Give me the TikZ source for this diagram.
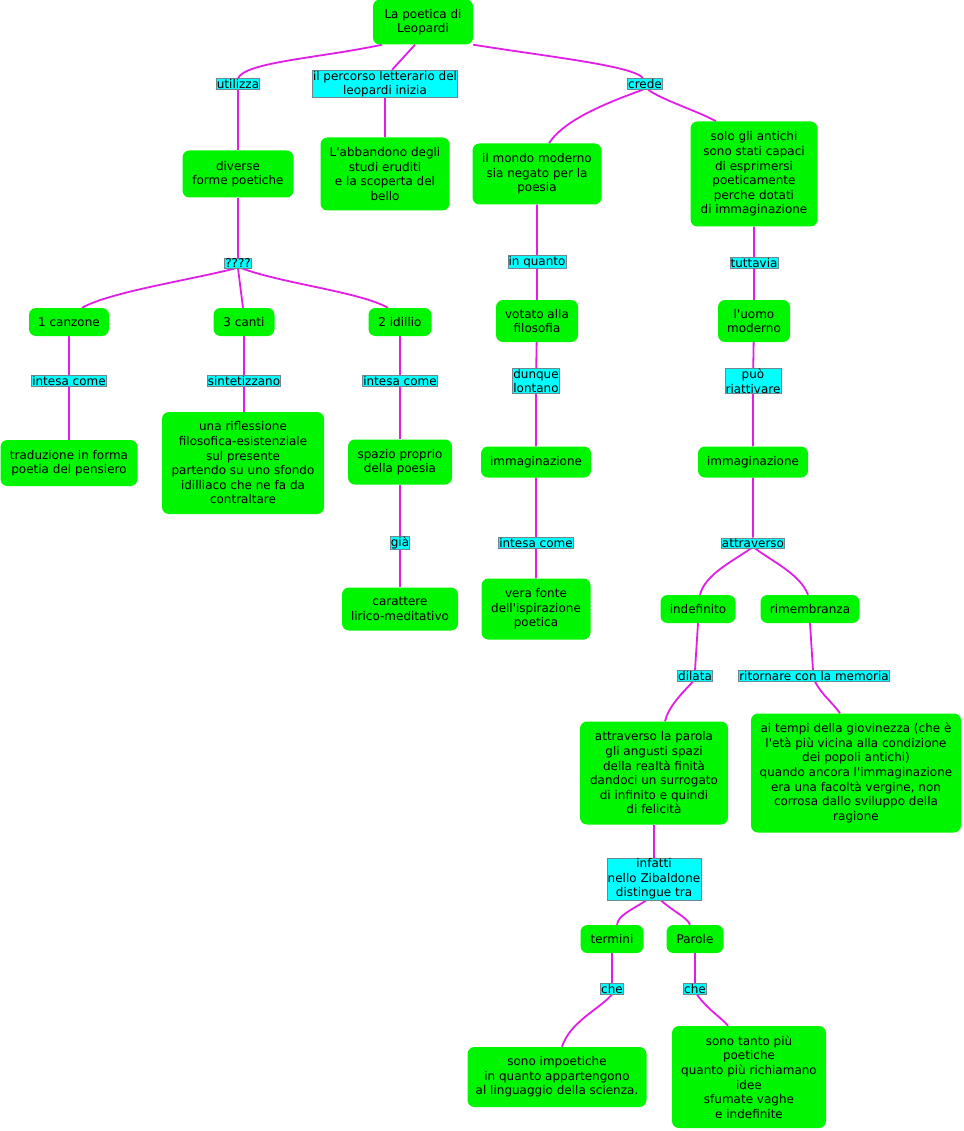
\documentclass[tikz,border=0pt]{standalone}
\usepackage{fontspec}
\setmainfont{DejaVu Sans}[Ligatures=TeXOff]
\usetikzlibrary{backgrounds}
\definecolor{cgreen}{RGB}{0,245,0}
\definecolor{lcyan}{RGB}{0,255,255}
\definecolor{lgray}{RGB}{110,135,145}
\definecolor{cmag}{RGB}{225,30,230}
\newcommand{\nfont}{\fontsize{12}{14.6}\selectfont}
\begin{document}
\begin{tikzpicture}[x=1pt,y=-1pt,
  concept/.style={fill=cgreen, rounded corners=7pt, align=center, inner sep=0pt, font=\nfont, text=black},
  linklabel/.style={fill=lcyan, draw=lgray, line width=0.8pt, align=center, inner sep=0.6pt, font=\nfont, text=black},
  conn/.style={draw=cmag, line width=1.8pt}]
\useasboundingbox (0,0) rectangle (963,1131);

% concepts
\node[concept, minimum width=100pt, minimum height=45pt] (root) at (423,22) {La poetica di\\Leopardi};
\node[concept, minimum width=111pt, minimum height=47pt] (diverse) at (238,174) {diverse\\forme poetiche};
\node[concept, minimum width=129pt, minimum height=73pt] (abband) at (385,174) {L'abbandono degli\\studi eruditi\\e la scoperta del\\bello};
\node[concept, minimum width=129pt, minimum height=61pt] (mondo) at (537,174) {il mondo moderno\\sia negato per la\\poesia};
\node[concept, minimum width=127pt, minimum height=105pt] (solo) at (754,174) {solo gli antichi\\sono stati capaci\\di esprimersi\\poeticamente\\perche dotati\\di immaginazione};
\node[concept, minimum width=80pt, minimum height=28pt] (canzone) at (69,322) {1 canzone};
\node[concept, minimum width=61pt, minimum height=28pt] (canti) at (244,322) {3 canti};
\node[concept, minimum width=63pt, minimum height=28pt] (idillio) at (400,322) {2 idillio};
\node[concept, minimum width=137pt, minimum height=46pt] (tradu) at (69,463) {traduzione in forma\\poetia del pensiero};
\node[concept, minimum width=162pt, minimum height=102pt] (rifl) at (243,463) {una riflessione\\filosofica-esistenziale\\sul presente\\partendo su uno sfondo\\idilliaco che ne fa da\\contraltare};
\node[concept, minimum width=104pt, minimum height=45pt] (spazio) at (400,462) {spazio proprio\\della poesia};
\node[concept, minimum width=116pt, minimum height=43pt] (caratt) at (400,609) {carattere\\lirico-meditativo};
\node[concept, minimum width=82pt, minimum height=42pt] (votato) at (537,321) {votato alla\\filosofia};
\node[concept, minimum width=110pt, minimum height=31pt] (immL) at (536,462) {immaginazione};
\node[concept, minimum width=109pt, minimum height=61pt] (fonte) at (536,609) {vera fonte\\dell'ispirazione\\poetica};
\node[concept, minimum width=72pt, minimum height=42pt] (uomo) at (754,321) {l'uomo\\moderno};
\node[concept, minimum width=110pt, minimum height=31pt] (immR) at (753,462) {immaginazione};
\node[concept, minimum width=75pt, minimum height=28pt] (indef) at (698,609) {indefinito};
\node[concept, minimum width=99pt, minimum height=28pt] (rimem) at (810,609) {rimembranza};
\node[concept, minimum width=148pt, minimum height=103pt] (parola) at (654,773) {attraverso la parola\\gli angusti spazi\\della realtà finità\\dandoci un surrogato\\di infinito e quindi\\di felicità};
\node[concept, minimum width=210pt, minimum height=119pt] (tempi) at (856,773) {ai tempi della giovinezza (che è\\l'età più vicina alla condizione\\dei popoli antichi)\\quando ancora l'immaginazione\\era una facoltà vergine, non\\corrosa dallo sviluppo della\\ragione};
\node[concept, minimum width=63pt, minimum height=28pt] (termini) at (612,939) {termini};
\node[concept, minimum width=57pt, minimum height=28pt] (parole) at (695,939) {Parole};
\node[concept, minimum width=179pt, minimum height=60pt] (impoet) at (557,1077) {sono impoetiche\\in quanto appartengono\\al linguaggio della scienza.};
\node[concept, minimum width=154pt, minimum height=102pt] (tanto) at (749,1077) {sono tanto più\\poetiche\\quanto più richiamano\\idee\\sfumate vaghe\\e indefinite};

% link labels
\node[linklabel] (utilizza) at (238,84) {utilizza};
\node[linklabel] (percorso) at (385,84) {il percorso letterario del\\leopardi inizia};
\node[linklabel] (crede) at (645,84) {crede};
\node[linklabel] (qqq) at (238,263) {????};
\node[linklabel] (intesaA) at (69,381) {intesa come};
\node[linklabel] (sintet) at (244,381) {sintetizzano};
\node[linklabel] (intesaB) at (400,381) {intesa come};
\node[linklabel] (gia) at (400,543) {già};
\node[linklabel] (inquanto) at (537,262) {in quanto};
\node[linklabel] (dunque) at (536,381) {dunque\\lontano};
\node[linklabel] (intesaC) at (536,543) {intesa come};
\node[linklabel] (tuttavia) at (754,263) {tuttavia};
\node[linklabel] (puo) at (753,381) {può\\riattivare};
\node[linklabel] (attrav) at (753,543) {attraverso};
\node[linklabel] (dilata) at (695,676) {dilata};
\node[linklabel] (ritorn) at (814,676) {ritornare con la memoria};
\node[linklabel] (infatti) at (654,879) {infatti\\nello Zibaldone\\distingue tra};
\node[linklabel] (cheL) at (612,989) {che};
\node[linklabel] (cheR) at (695,989) {che};

\begin{scope}[on background layer]
\fill[white] (0,0) rectangle (963,1131);
% top
\draw[conn] ([xshift=-41pt]root.south) .. controls (320,58) and (245,62) .. (utilizza.north);
\draw[conn] (utilizza) -- (diverse);
\draw[conn] ([xshift=-8pt]root.south) -- ([xshift=7pt]percorso.north);
\draw[conn] (percorso) -- (abband);
\draw[conn] (root.south east) .. controls (550,57) and (635,66) .. ([xshift=-2pt]crede.north);
\draw[conn] ([xshift=-2pt]crede.south) .. controls (615,100) and (565,118) .. ([xshift=12pt]mondo.north);
\draw[conn] ([xshift=3pt]crede.south) .. controls (662,100) and (700,112) .. ([xshift=-38pt]solo.north);
% left column
\draw[conn] (diverse) -- (qqq);
\draw[conn] ([xshift=-3pt]qqq.south) .. controls (190,280) and (110,292) .. ([xshift=13pt]canzone.north);
\draw[conn] (qqq.south) -- ([xshift=-1pt]canti.north);
\draw[conn] ([xshift=4pt]qqq.south) .. controls (285,284) and (360,292) .. ([xshift=-12pt]idillio.north);
\draw[conn] (canzone) -- (intesaA) -- (tradu);
\draw[conn] (canti) -- (sintet) -- (rifl.north -| sintet);
\draw[conn] (idillio) -- (intesaB) -- (spazio) -- (gia) -- (caratt);
% middle column
\draw[conn] (mondo) -- (inquanto) -- (votato) -- (dunque) -- (immL) -- (intesaC) -- (fonte);
% right column
\draw[conn] (solo) -- (tuttavia) -- (uomo) -- (puo) -- (immR) -- (attrav);
\draw[conn] ([xshift=-2pt]attrav.south) .. controls (735,560) and (705,574) .. ([xshift=2pt]indef.north);
\draw[conn] ([xshift=2pt]attrav.south) .. controls (773,562) and (800,574) .. ([xshift=-2pt]rimem.north);
\draw[conn] (indef.south) -- (dilata.north);
\draw[conn] (rimem.south) -- ([xshift=-1pt]ritorn.north);
\draw[conn] ([xshift=-2pt]dilata.south) .. controls (680,695) and (668,708) .. ([xshift=11pt]parola.north);
\draw[conn] ([xshift=1pt]ritorn.south) .. controls (822,695) and (832,702) .. ([xshift=-16pt]tempi.north);
\draw[conn] (parola) -- (infatti);
\draw[conn] ([xshift=-8pt]infatti.south) .. controls (632,910) and (618,915) .. ([xshift=5pt]termini.north);
\draw[conn] ([xshift=7pt]infatti.south) .. controls (674,912) and (688,918) .. ([xshift=-5pt]parole.north);
\draw[conn] (termini) -- (cheL);
\draw[conn] (parole) -- (cheR);
\draw[conn] (cheL.south) .. controls (598,1010) and (570,1022) .. ([xshift=5pt]impoet.north);
\draw[conn] ([xshift=2pt]cheR.south) .. controls (708,1010) and (722,1018) .. ([xshift=-21pt]tanto.north);
\end{scope}
\end{tikzpicture}
\end{document}
